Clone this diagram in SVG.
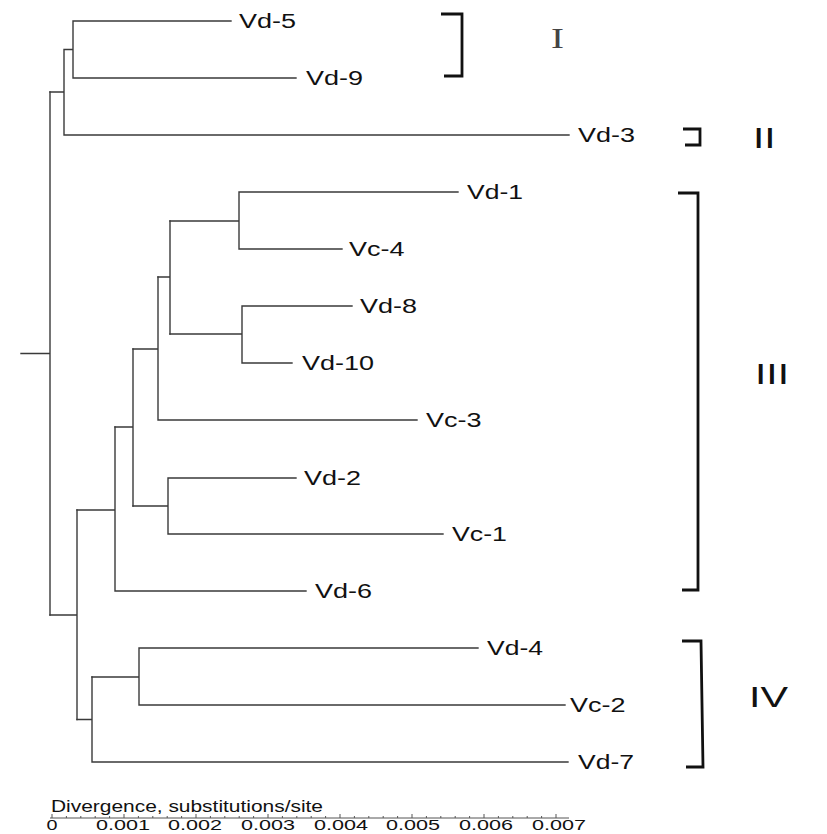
<svg xmlns="http://www.w3.org/2000/svg" width="827" height="834" viewBox="0 0 827 834">
<style>
.br{fill:none;stroke:#3a3a3a;stroke-width:1.4;stroke-linecap:square}
.lf{font-family:"Liberation Sans",Arial,sans-serif;font-size:20px;fill:#111}
.bk{fill:none;stroke:#111;stroke-width:2.8;stroke-linejoin:miter}
.cl{font-family:"Liberation Sans",Arial,sans-serif;font-size:29px;fill:#111}
.ax{fill:none;stroke:#555;stroke-width:1}
.at{font-family:"Liberation Sans",Arial,sans-serif;font-size:16px;fill:#111}
.an{font-family:"Liberation Sans",Arial,sans-serif;font-size:15px;fill:#111;text-anchor:middle}
</style>
<rect width="827" height="834" fill="#fff"/>
<g id="connectors" class="br">
<path d="M21 353.5H50M50 92V615"/>
<path d="M50 92H64M64 49.5V135M64 49.5H73M73 21V78M73 21H231M73 78H296M64 135H569"/>
<path d="M50 615H77M77 510V719.5"/>
<path d="M77 510H115M115 427V591M115 591H306"/>
<path d="M115 427H133M133 349V506"/>
<path d="M133 349H158M158 277V420M158 420H417"/>
<path d="M158 277H170M170 221V334"/>
<path d="M170 221H239M239 192V249M239 192H458M239 249H342"/>
<path d="M170 334H242M242 306V363M242 306H352M242 363H292"/>
<path d="M133 506H168M168 478V534M168 478H296M168 534H443"/>
<path d="M77 719.5H92M92 677V762M92 762H568"/>
<path d="M92 677H139M139 648V705M139 648H478M139 705H565"/>
</g>
<g id="leaf-Vd-5"><text class="lf" x="239" y="28" textLength="57" lengthAdjust="spacingAndGlyphs">Vd-5</text></g>
<g id="leaf-Vd-9"><text class="lf" x="306" y="85" textLength="57" lengthAdjust="spacingAndGlyphs">Vd-9</text></g>
<g id="leaf-Vd-3"><text class="lf" x="578" y="142" textLength="57" lengthAdjust="spacingAndGlyphs">Vd-3</text></g>
<g id="leaf-Vd-1"><text class="lf" x="467" y="199" textLength="56" lengthAdjust="spacingAndGlyphs">Vd-1</text></g>
<g id="leaf-Vc-4"><text class="lf" x="349" y="256" textLength="55.5" lengthAdjust="spacingAndGlyphs">Vc-4</text></g>
<g id="leaf-Vd-8"><text class="lf" x="360" y="313" textLength="57" lengthAdjust="spacingAndGlyphs">Vd-8</text></g>
<g id="leaf-Vd-10"><text class="lf" x="302" y="370" textLength="72" lengthAdjust="spacingAndGlyphs">Vd-10</text></g>
<g id="leaf-Vc-3"><text class="lf" x="426" y="427" textLength="55.5" lengthAdjust="spacingAndGlyphs">Vc-3</text></g>
<g id="leaf-Vd-2"><text class="lf" x="304" y="485" textLength="57" lengthAdjust="spacingAndGlyphs">Vd-2</text></g>
<g id="leaf-Vc-1"><text class="lf" x="452" y="541" textLength="55" lengthAdjust="spacingAndGlyphs">Vc-1</text></g>
<g id="leaf-Vd-6"><text class="lf" x="315" y="598" textLength="57" lengthAdjust="spacingAndGlyphs">Vd-6</text></g>
<g id="leaf-Vd-4"><text class="lf" x="487" y="655" textLength="56" lengthAdjust="spacingAndGlyphs">Vd-4</text></g>
<g id="leaf-Vc-2"><text class="lf" x="570" y="712" textLength="55.5" lengthAdjust="spacingAndGlyphs">Vc-2</text></g>
<g id="leaf-Vd-7"><text class="lf" x="578" y="769" textLength="56" lengthAdjust="spacingAndGlyphs">Vd-7</text></g>
<g id="clade-I">
<path class="bk" d="M441 14H462V76H444"/>
<text x="551" y="48" font-family="Liberation Serif,'Times New Roman',serif" font-size="30" fill="#444" textLength="13" lengthAdjust="spacingAndGlyphs">I</text>
</g>
<g id="clade-II">
<path class="bk" d="M683 129H700V145H685"/>
<text class="cl" x="753" y="148" textLength="22.6" lengthAdjust="spacingAndGlyphs">II</text>
</g>
<g id="clade-III">
<path class="bk" d="M678 193H698V590H682"/>
<text class="cl" x="755" y="384" textLength="34" lengthAdjust="spacingAndGlyphs">III</text>
</g>
<g id="clade-IV">
<path class="bk" d="M682 641H701L703 767H686"/>
<text class="cl" x="749" y="707" textLength="39" lengthAdjust="spacingAndGlyphs">IV</text>
</g>
<g id="scale-axis">
<path class="ax" d="M50 818H569"/>
<path class="ax" d="M52 818V814M124 818V814M196 818V814M268 818V814M340 818V814M412 818V814M484 818V814M556 818V814"/>
<path class="ax" d="M66.4 818V816M80.8 818V816M95.2 818V816M109.6 818V816M138.4 818V816M152.8 818V816M167.2 818V816M181.6 818V816M210.4 818V816M224.8 818V816M239.2 818V816M253.6 818V816M282.4 818V816M296.8 818V816M311.2 818V816M325.6 818V816M354.4 818V816M368.8 818V816M383.2 818V816M397.6 818V816M426.4 818V816M440.8 818V816M455.2 818V816M469.6 818V816M498.4 818V816M512.8 818V816M527.2 818V816M541.6 818V816"/>
<text class="at" x="51" y="812" textLength="272" lengthAdjust="spacingAndGlyphs">Divergence, substitutions/site</text>
<text class="an" x="52" y="830" textLength="11" lengthAdjust="spacingAndGlyphs">0</text>
<text class="an" x="123" y="830" textLength="54" lengthAdjust="spacingAndGlyphs">0.001</text>
<text class="an" x="195" y="830" textLength="54" lengthAdjust="spacingAndGlyphs">0.002</text>
<text class="an" x="268" y="830" textLength="54" lengthAdjust="spacingAndGlyphs">0.003</text>
<text class="an" x="341" y="830" textLength="54" lengthAdjust="spacingAndGlyphs">0.004</text>
<text class="an" x="413" y="830" textLength="54" lengthAdjust="spacingAndGlyphs">0.005</text>
<text class="an" x="486" y="830" textLength="54" lengthAdjust="spacingAndGlyphs">0.006</text>
<text class="an" x="559" y="830" textLength="54" lengthAdjust="spacingAndGlyphs">0.007</text>
</g>
</svg>
